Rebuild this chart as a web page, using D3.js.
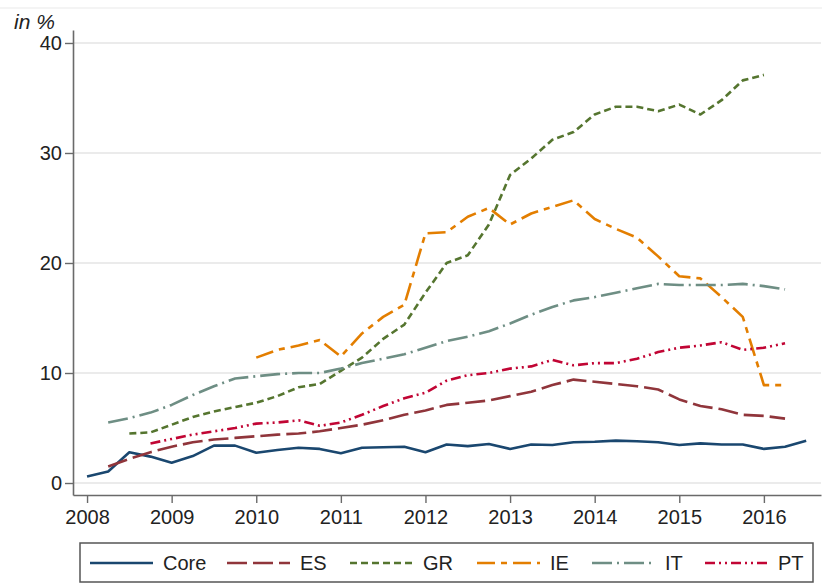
<!DOCTYPE html>
<html>
<head>
<meta charset="utf-8">
<script src="https://cdn.jsdelivr.net/npm/d3@7"></script>
<style>
  html, body { margin: 0; padding: 0; background: #fff; }
  svg { display: block; font-family: "Liberation Sans", Arial, sans-serif; }
</style>
</head>
<body>
<svg id="chart" width="830" height="583"></svg>
<script>
// ---- data (quarterly, 2008Q1 .. 2016Q3), values in % ----
const quarters = [
  "2008Q1","2008Q2","2008Q3","2008Q4",
  "2009Q1","2009Q2","2009Q3","2009Q4",
  "2010Q1","2010Q2","2010Q3","2010Q4",
  "2011Q1","2011Q2","2011Q3","2011Q4",
  "2012Q1","2012Q2","2012Q3","2012Q4",
  "2013Q1","2013Q2","2013Q3","2013Q4",
  "2014Q1","2014Q2","2014Q3","2014Q4",
  "2015Q1","2015Q2","2015Q3","2015Q4",
  "2016Q1","2016Q2","2016Q3"
];
const seriesNames = ["Core", "ES", "GR", "IE", "IT", "PT"];
const core = [0.6,1.05,2.8,2.4, 1.85,2.45,3.4,3.4, 2.75,3.0,3.2,3.1, 2.7,3.2,3.25,3.3, 2.8,3.5,3.35,3.55, 3.1,3.5,3.45,3.7, 3.75,3.85,3.8,3.7, 3.45,3.6,3.5,3.5, 3.1,3.3,3.85];
const es   = [null,1.5,2.2,2.8, 3.3,3.7,3.95,4.1, 4.25,4.4,4.5,4.7, 5.0,5.3,5.7,6.2, 6.6,7.1,7.3,7.5, 7.9,8.3,8.9,9.4, 9.2,9.0,8.8,8.5, 7.6,7.0,6.7,6.2, 6.1,5.85,null];
const gr   = [null,null,4.5,4.6, 5.3,6.0,6.5,6.9, 7.3,7.9,8.7,9.0, 10.2,11.4,13.1,14.4, 17.3,20.0,20.7,23.5, 28.0,29.5,31.2,31.9, 33.5,34.2,34.2,33.8, 34.4,33.5,34.8,36.6, 37.1,null,null];
const ie   = [null,null,null,null, null,null,null,null, 11.4,12.1,12.5,13.0, 11.5,13.6,15.1,16.2, 22.7,22.8,24.2,25.0, 23.5,24.5,25.1,25.7, 24.0,23.1,22.3,20.6, 18.8,18.6,16.9,15.1, 8.9,8.9,null];
const it   = [null,5.5,5.9,6.4, 7.1,8.0,8.8,9.5, 9.7,9.9,10.0,10.0, 10.4,10.9,11.3,11.7, 12.3,12.9,13.3,13.8, 14.5,15.3,16.0,16.6, 16.9,17.3,17.7,18.1, 18.0,18.0,18.0,18.1, 17.9,17.6,null];
const pt   = [null,null,null,3.6, 4.0,4.4,4.7,5.0, 5.4,5.5,5.7,5.2, 5.5,6.2,7.0,7.7, 8.2,9.3,9.8,10.0, 10.4,10.6,11.2,10.7, 10.9,10.9,11.3,11.9, 12.3,12.5,12.8,12.1, 12.3,12.7,null];
const xTickLabels = [2008, 2009, 2010, 2011, 2012, 2013, 2014, 2015, 2016];
const yTickLabels = [0, 10, 20, 30, 40];
const yAxisTitle = "in %";

// ---- styles ----
const seriesValues = [core, es, gr, ie, it, pt];
const colors = ["#1a476f", "#90353b", "#55752f", "#e37e00", "#6e8e84", "#c10534"];
const dashes = ["none", "20,6", "7,4", "18,6,6,6", "20,5,2,5", "10,4,2,4,2,4"];

const svg = d3.select("#chart");

const x = d3.scaleLinear().domain([2007.834, 2016.675]).range([73, 821]);
const y = d3.scaleLinear().domain([-1.09, 41.18]).range([495, 30]);

const qToYear = q => +q.slice(0, 4) + (+q.slice(5) - 1) / 4;

// faint outer border line at top
svg.append("line").attr("x1", 0).attr("x2", 822).attr("y1", 8).attr("y2", 8)
  .attr("stroke", "#f0f0f0").attr("stroke-width", 1.5);

// gridlines
svg.append("g").selectAll("line").data(yTickLabels).join("line")
  .attr("x1", 74).attr("x2", 821)
  .attr("y1", d => y(d)).attr("y2", d => y(d))
  .attr("stroke", "#ebebeb").attr("stroke-width", 2);

// axes
const yAxis = svg.append("g").attr("transform", "translate(73,0)")
  .call(d3.axisLeft(y).tickValues(yTickLabels).tickSize(8).tickSizeOuter(0).tickPadding(3));
const xAxis = svg.append("g").attr("transform", "translate(0,495)")
  .call(d3.axisBottom(x).tickValues(xTickLabels).tickFormat(d3.format("d")).tickSize(8).tickSizeOuter(0).tickPadding(6));
[yAxis, xAxis].forEach(g => {
  g.select(".domain").attr("stroke", "#6a6a6a").attr("stroke-width", 1.6);
  g.selectAll(".tick line").attr("stroke", "#6a6a6a").attr("stroke-width", 1.4);
  g.selectAll(".tick text").attr("fill", "#222").attr("font-size", 20)
    .attr("font-family", "'Liberation Sans', Arial, sans-serif");
});
xAxis.selectAll(".tick text").attr("dy", "0.75em");

svg.append("text").attr("x", 14).attr("y", 29)
  .attr("font-size", 21).attr("font-style", "italic").attr("fill", "#222")
  .text(yAxisTitle);

// lines
const line = d3.line()
  .defined(d => d.v != null)
  .x(d => x(d.t))
  .y(d => y(d.v));

seriesNames.forEach((name, k) => {
  const pts = quarters.map((q, i) => ({ t: qToYear(q), v: seriesValues[k][i] }));
  svg.append("path").datum(pts)
    .attr("d", line)
    .attr("fill", "none")
    .attr("stroke", colors[k])
    .attr("stroke-width", 2.6)
    .attr("stroke-dasharray", dashes[k])
    .attr("stroke-linejoin", "round");
});

// legend
const legend = svg.append("g");
legend.append("rect").attr("x", 80).attr("y", 543).attr("width", 733).attr("height", 39)
  .attr("fill", "#fff").attr("stroke", "#555").attr("stroke-width", 1.5);
const legendStarts = [90, 227, 350, 477, 592, 705];
seriesNames.forEach((name, k) => {
  const lx = legendStarts[k];
  legend.append("line").attr("x1", lx).attr("x2", lx + 63).attr("y1", 563).attr("y2", 563)
    .attr("stroke", colors[k]).attr("stroke-width", 2.6).attr("stroke-dasharray", dashes[k]);
  legend.append("text").attr("x", lx + 73).attr("y", 563).attr("dy", "0.36em")
    .attr("font-size", 20).attr("fill", "#222").text(name);
});
</script>
</body>
</html>
